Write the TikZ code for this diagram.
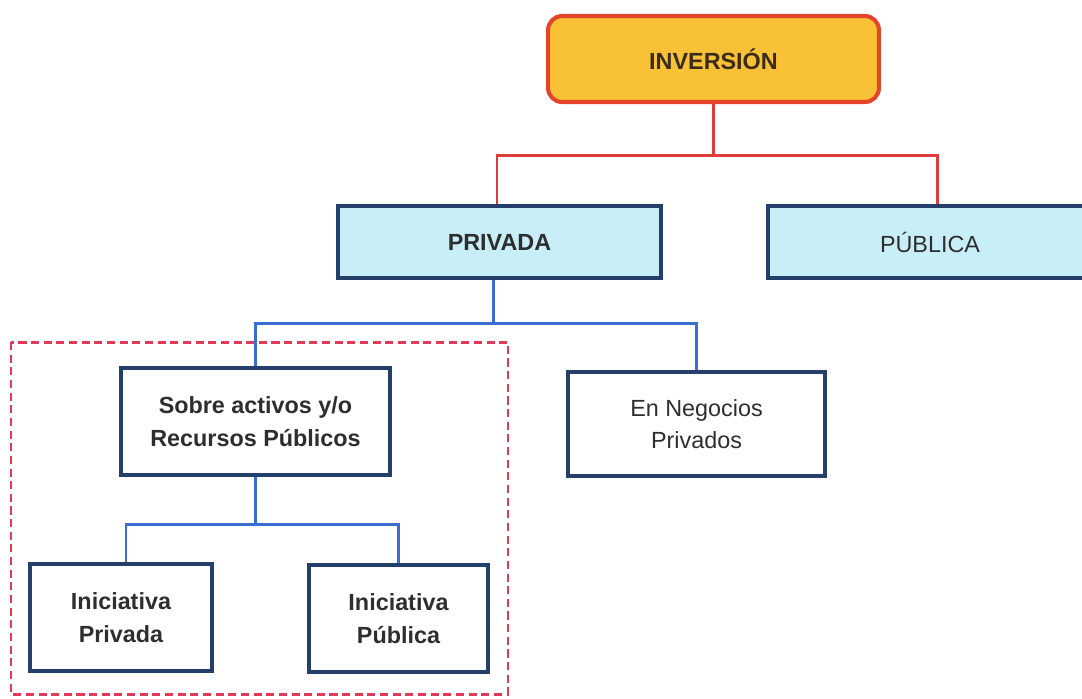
\documentclass[tikz,border=0pt]{standalone}
\usepackage{fontspec}
\setmainfont{Liberation Sans}
\begin{document}
\begin{tikzpicture}[x=0.02cm,y=-0.02cm,
  txt/.style={font=\fontsize{13.3}{18.6}\selectfont, text=textgrey, align=center, inner sep=0pt},
  rootbox/.style={txt, draw=rootred, fill=rootfill, line width=2.3pt, rounded corners=8pt, text=rootText, font=\fontsize{13.3}{18.6}\selectfont\bfseries},
  bluebox/.style={txt, draw=navy, fill=paleblue, line width=2.3pt},
  whitebox/.style={txt, draw=navy, fill=white, line width=2.3pt},
  redline/.style={draw=linkred, line width=1.7pt},
  blueline/.style={draw=linkblue, line width=1.7pt},
  groupframe/.style={draw=framered, line width=1.7pt, dash pattern=on 4.6pt off 2.6pt}
]
\definecolor{rootfill}{HTML}{F8C136}
\definecolor{rootred}{HTML}{E4442B}
\definecolor{rootText}{HTML}{3B2C16}
\definecolor{paleblue}{HTML}{C8EEF8}
\definecolor{navy}{HTML}{24406A}
\definecolor{textgrey}{HTML}{2E2E2E}
\definecolor{linkred}{HTML}{E03C3C}
\definecolor{linkblue}{HTML}{3A6FD2}
\definecolor{framered}{HTML}{E03A58}

\clip (0,0) rectangle (1082,698);
\fill[white] (0,0) rectangle (1082,698);

% bus levels
\coordinate (rbus) at (0,155);
\coordinate (bbus) at (0,323);
\coordinate (cbus) at (0,524);

% boxes
\node[rootbox, minimum width=6.62cm, minimum height=1.72cm] (inv) at (713.5,59) {INVERSIÓN};
\node[bluebox, minimum width=6.46cm, minimum height=1.44cm, font=\fontsize{13.3}{18.6}\selectfont\bfseries] (priv) at (499.5,242) {PRIVADA};
\node[bluebox, minimum width=6.5cm, minimum height=1.44cm] (pub) at (930,242) {PÚBLICA};
\node[whitebox, minimum width=5.38cm, minimum height=2.14cm, font=\fontsize{13.3}{18.6}\selectfont\bfseries] (sobre) at (255.5,421.5) {Sobre activos y/o\\Recursos Públicos};
\node[whitebox, minimum width=5.14cm, minimum height=2.08cm] (neg) at (696.5,424) {En Negocios\\Privados};
\node[whitebox, minimum width=3.64cm, minimum height=2.14cm, font=\fontsize{13.3}{18.6}\selectfont\bfseries] (ipriv) at (121,617.5) {Iniciativa\\Privada};
\node[whitebox, minimum width=3.58cm, minimum height=2.14cm, font=\fontsize{13.3}{18.6}\selectfont\bfseries] (ipub) at (398.5,618.5) {Iniciativa\\Pública};

% anchor points where the links meet the boxes
\coordinate (privtop) at ([xshift=-0.05cm]priv.north);
\coordinate (pubtop)  at ([xshift=0.14cm]pub.north);
\coordinate (privbot) at ([xshift=-0.13cm]priv.south);
\coordinate (ipritop) at ([xshift=0.1cm]ipriv.north);

% connectors
\draw[redline] (inv.south) -- (inv.south |- rbus);
\draw[redline] (privtop) -- (privtop |- rbus) -- (pubtop |- rbus) -- (pubtop);
\draw[blueline] (privbot) -- (privbot |- bbus);
\draw[blueline] (sobre.north) -- (sobre.north |- bbus) -- (neg.north |- bbus) -- (neg.north);
\draw[blueline] (sobre.south) -- (sobre.south |- cbus);
\draw[blueline] (ipritop) -- (ipritop |- cbus) -- (ipub.north |- cbus) -- (ipub.north);

% dashed grouping frame
\draw[groupframe] (11,342) rectangle (508,694);
\end{tikzpicture}
\end{document}
